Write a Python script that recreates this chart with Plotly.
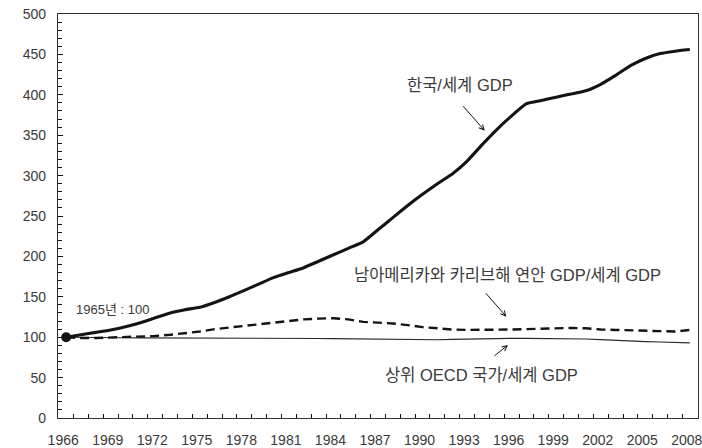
import plotly.graph_objects as go

years = list(range(1966, 2009))

korea_world = [100, 103, 106, 109, 113, 118, 124, 130, 134, 137,
               143, 150, 158, 166, 174, 180, 186, 194, 202, 210,
               218, 233, 248, 263, 277, 290, 302, 318, 338, 357,
               374, 389, 393, 397, 401, 405, 413, 424, 436, 445,
               451, 454, 456]

latam_world = [100, 99, 99, 99.5, 100, 101, 101.5, 103, 105, 107,
               110, 112, 114, 116, 118, 120, 122, 123, 123.5, 122,
               119, 118, 117, 115, 112.5, 111, 109.5, 109, 109, 109,
               109.5, 110, 110.5, 111, 111.5, 111, 109.5, 109, 108.5, 108,
               107.5, 107, 109]

oecd_world = [100, 99.6, 99.5, 99.4, 99.3, 99.2, 99.2, 99.1, 99, 99,
              99, 99, 99, 98.9, 98.8, 98.7, 98.6, 98.4, 98.2, 98,
              97.7, 97.4, 97, 96.8, 96.5, 96.8, 97.3, 97.8, 98.2, 98.5,
              98.6, 98.6, 98.5, 98.4, 98.2, 97.8, 97, 96, 95.2, 94.5,
              94, 93.5, 93]

x_tick_vals = list(range(1966, 2009, 3))
x_tick_text = [str(v) for v in x_tick_vals]
y_tick_vals = list(range(0, 501, 50))

label_korea = "한국/세계 GDP"
label_latam = "남아메리카와 카리브해 연안 GDP/세계 GDP"
label_oecd = "상위 OECD 국가/세계 GDP"
label_base = "1965년 : 100"

FONT = "Liberation Sans, Arial, Noto Sans CJK KR, sans-serif"
TXT = "#3a3a3a"
INK = "#141414"

fig = go.Figure()
fig.add_trace(go.Scatter(x=years, y=oecd_world, mode="lines",
                         line=dict(color="#2a2a2a", width=1.1), hoverinfo="skip"))
fig.add_trace(go.Scatter(x=years, y=latam_world, mode="lines",
                         line=dict(color=INK, width=2.4, dash="9px,5px"), hoverinfo="skip"))
fig.add_trace(go.Scatter(x=years, y=korea_world, mode="lines",
                         line=dict(color=INK, width=3.1, shape="spline", smoothing=0.4),
                         hoverinfo="skip"))
fig.add_trace(go.Scatter(x=years[:1], y=korea_world[:1], mode="markers",
                         marker=dict(color=INK, size=10), hoverinfo="skip"))

annos = [
    dict(x=1992.5, y=412, text=label_korea, showarrow=False, font=dict(size=16.5)),
    dict(x=1995.7, y=177, text=label_latam, showarrow=False, font=dict(size=16.5)),
    dict(x=1994.0, y=53, text=label_oecd, showarrow=False, font=dict(size=16.5)),
    dict(x=1969.1, y=134, text=label_base, showarrow=False, font=dict(size=13)),
    dict(x=1994.19, y=355.6, ax=-23, ay=-26, text="", showarrow=True,
         arrowhead=5, arrowsize=1, arrowwidth=1, arrowcolor=INK),
    dict(x=1995.65, y=125.4, ax=-22, ay=-25, text="", showarrow=True,
         arrowhead=5, arrowsize=1, arrowwidth=1, arrowcolor=INK),
    dict(x=1995.75, y=90.3, ax=-15, ay=12, text="", showarrow=True,
         arrowhead=5, arrowsize=1, arrowwidth=1, arrowcolor=INK),
]
for a in annos:
    a.setdefault("font", {})
    a["font"].update(family=FONT, color=TXT)
    a.update(xref="x", yref="y")

fig.update_layout(
    width=702, height=448,
    margin=dict(l=58, r=4, t=14, b=30),
    plot_bgcolor="white", paper_bgcolor="white",
    showlegend=False,
    font=dict(family=FONT, color=TXT, size=14),
    annotations=annos,
)
fig.update_xaxes(
    range=[1965.45, 2008.55], showgrid=False, zeroline=False, automargin=False,
    tickmode="array", tickvals=x_tick_vals, ticktext=x_tick_text,
    ticks="inside", ticklen=0, ticklabelstandoff=9, ticklabelshift=-3,
    ticklabeloverflow="allow",
    minor=dict(ticks="inside", tick0=1965.5, dtick=1, ticklen=4, tickcolor=INK, tickwidth=1),
    showline=True, linecolor="#333333", linewidth=1.3, mirror=True,
    tickfont=dict(size=14, color=TXT),
)
fig.update_yaxes(
    range=[0, 500], showgrid=False, zeroline=False, automargin=False,
    tickmode="array", tickvals=y_tick_vals,
    ticks="inside", ticklen=5, tickcolor=INK, tickwidth=1, ticklabelstandoff=8,
    minor=dict(ticks="inside", tick0=0, dtick=10, ticklen=4, tickcolor=INK, tickwidth=1),
    showline=True, linecolor="#333333", linewidth=1.3, mirror=True,
    tickfont=dict(size=14, color=TXT),
)

fig.write_html("out.html", config={"displayModeBar": False},
               post_script="document.body.style.margin='0px';")
